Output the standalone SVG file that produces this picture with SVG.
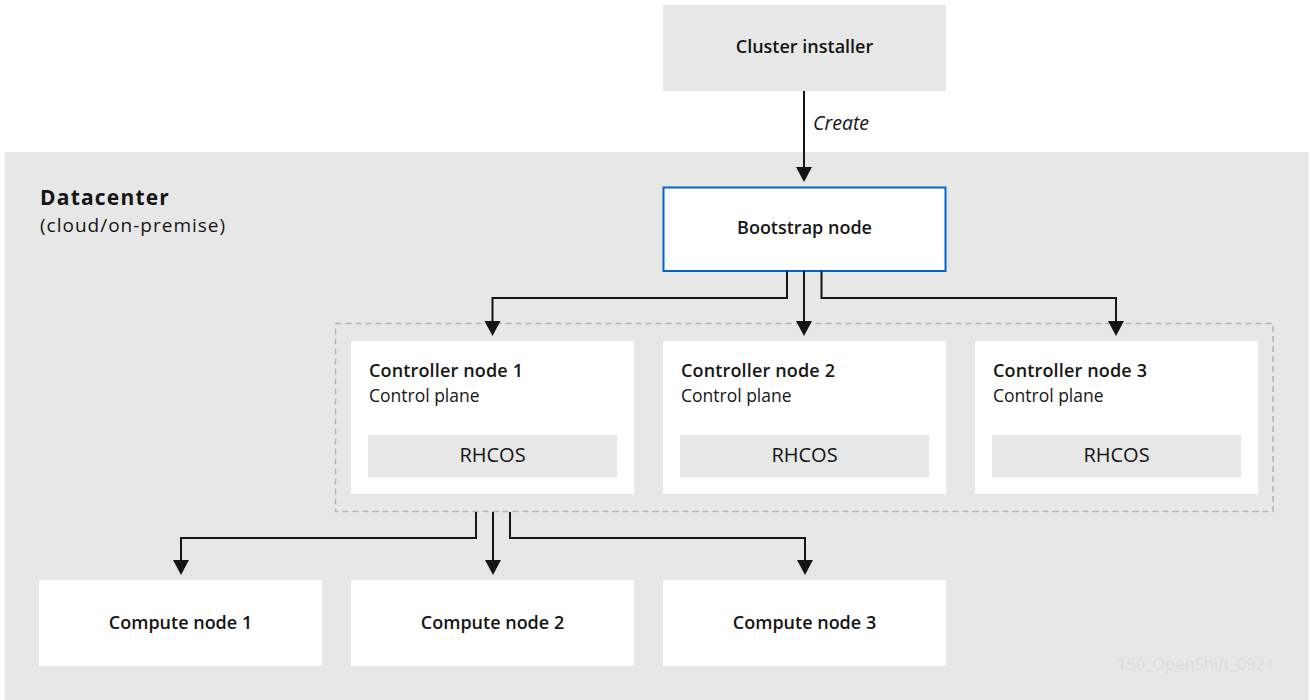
<svg xmlns="http://www.w3.org/2000/svg" width="1311" height="700" viewBox="0 0 1311 700">
  <style>
    text { font-family: "Open Sans", "Liberation Sans", sans-serif; fill: #151515; }
    .grey { fill: #e7e7e7; }
    .white { fill: #ffffff; }
    .lbl { font-size: 18px; font-weight: 600; text-anchor: middle; }
    .title { font-size: 18px; font-weight: 600; letter-spacing: 0.15px; }
    .sub { font-size: 17.5px; font-weight: 400; }
    .os { font-size: 20px; font-weight: 500; text-anchor: middle; }
    .conn { fill: none; stroke: #151515; stroke-width: 2; }
    .head { fill: #151515; }
  </style>

  <rect id="datacenter-bg" class="grey" x="5" y="152" width="1304" height="548"/>

  <g id="datacenter-label">
    <text x="40" y="205" style="font-size:21px;font-weight:700;letter-spacing:1.2px">Datacenter</text>
    <text x="40" y="232" style="font-size:19px;font-weight:400;letter-spacing:1px">(cloud/on-premise)</text>
  </g>

  <g id="cluster-installer">
    <rect class="grey" x="663" y="5" width="283" height="86"/>
    <text class="lbl" x="804.5" y="53">Cluster installer</text>
  </g>

  <g id="bootstrap-node">
    <rect class="white" x="663.5" y="187.5" width="282" height="83.5" stroke="#0066cc" stroke-width="2"/>
    <text class="lbl" x="804.5" y="234">Bootstrap node</text>
  </g>

  <g id="control-plane-group">
    <rect x="335.5" y="323.5" width="937.5" height="188" fill="none" stroke="#b3b3b3" stroke-width="1.5" stroke-dasharray="6 4"/>
  </g>

  <g id="controller-node-1">
    <rect class="white" x="351" y="341" width="283" height="153"/>
    <text class="title" x="369" y="377">Controller node 1</text>
    <text class="sub" x="369" y="401.5">Control plane</text>
    <rect class="grey" x="368" y="435" width="249" height="42.5"/>
    <text class="os" x="492.5" y="462">RHCOS</text>
  </g>

  <g id="controller-node-2">
    <rect class="white" x="663" y="341" width="283" height="153"/>
    <text class="title" x="681" y="377">Controller node 2</text>
    <text class="sub" x="681" y="401.5">Control plane</text>
    <rect class="grey" x="680" y="435" width="249" height="42.5"/>
    <text class="os" x="804.5" y="462">RHCOS</text>
  </g>

  <g id="controller-node-3">
    <rect class="white" x="975" y="341" width="283" height="153"/>
    <text class="title" x="993" y="377">Controller node 3</text>
    <text class="sub" x="993" y="401.5">Control plane</text>
    <rect class="grey" x="992" y="435" width="249" height="42.5"/>
    <text class="os" x="1116.5" y="462">RHCOS</text>
  </g>

  <g id="compute-node-1">
    <rect class="white" x="39" y="580" width="283" height="86"/>
    <text class="lbl" x="180.5" y="629">Compute node 1</text>
  </g>

  <g id="compute-node-2">
    <rect class="white" x="351" y="580" width="283" height="86"/>
    <text class="lbl" x="492.5" y="629">Compute node 2</text>
  </g>

  <g id="compute-node-3">
    <rect class="white" x="663" y="580" width="283" height="86"/>
    <text class="lbl" x="804.5" y="629">Compute node 3</text>
  </g>

  <g id="connectors">
    <path class="conn" d="M804,91 V168"/>
    <polygon class="head" points="796,167 812,167 804,182"/>
    <text x="813" y="130" style="font-size:19.5px;font-style:italic">Create</text>

    <path class="conn" d="M787,271 V298 H492.5 V322"/>
    <polygon class="head" points="484.5,321 500.5,321 492.5,336"/>
    <path class="conn" d="M804,271 V322"/>
    <polygon class="head" points="796,321 812,321 804,336"/>
    <path class="conn" d="M821.5,271 V298 H1116 V322"/>
    <polygon class="head" points="1108,321 1124,321 1116,336"/>

    <path class="conn" d="M476,512 V538 H181 V561"/>
    <polygon class="head" points="173,560 189,560 181,575"/>
    <path class="conn" d="M493,512 V561"/>
    <polygon class="head" points="485,560 501,560 493,575"/>
    <path class="conn" d="M510,512 V538 H805 V561"/>
    <polygon class="head" points="797,560 813,560 805,575"/>
  </g>

  <text x="1117" y="670" style="font-size:16.5px;font-weight:400;fill:#dadada">150_OpenShift_0921</text>
</svg>
